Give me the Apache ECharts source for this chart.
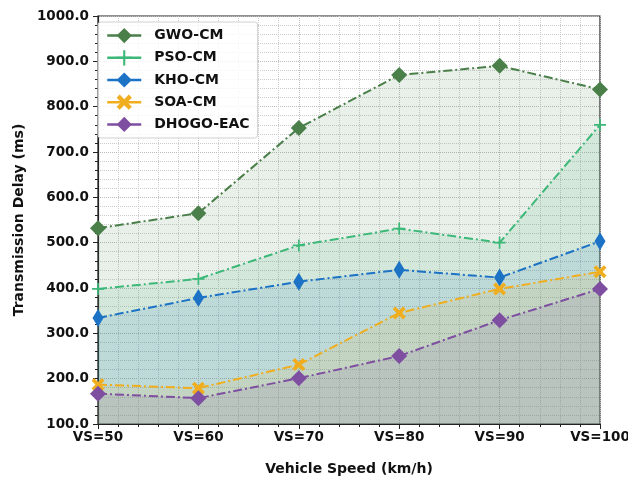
<!DOCTYPE html>
<html><head><meta charset="utf-8">
<script src="https://cdn.jsdelivr.net/npm/echarts@6/dist/echarts.min.js"></script>
<style>html,body{margin:0;padding:0;background:#fff}#c{width:628px;height:479px}</style>
</head><body><div id="c"></div>
<script>
const speeds = [50, 60, 70, 80, 90, 100];
const seriesNames = ['GWO-CM', 'PSO-CM', 'KHO-CM', 'SOA-CM', 'DHOGO-EAC'];
const gwo = [532, 565, 753, 870, 890, 838];
const pso = [398, 420, 494, 531, 500, 760];
const kho = [334, 378, 414, 440, 423, 503];
const soa = [187, 179, 231, 345, 398, 436];
const dhogo = [167, 157, 201, 250, 329, 398];
const yMin = 100, yMax = 1000, yStep = 100;

const colors = ['#4a7f4a', '#3cb878', '#1c72c4', '#f0ae1e', '#7e4fa0'];
const plusPath = 'path://M4.3,0 L5.7,0 L5.7,4.3 L10,4.3 L10,5.7 L5.7,5.7 L5.7,10 L4.3,10 L4.3,5.7 L0,5.7 L0,4.3 L4.3,4.3 Z';
const xPath = 'path://M2,0 L5,3 L8,0 L10,2 L7,5 L10,8 L8,10 L5,7 L2,10 L0,8 L3,5 L0,2 Z';
const symbols = ['diamond', plusPath, 'diamond', xPath, 'diamond'];
const symbolSizes = [[16, 16], [12, 12], [11, 18], [13, 13], [16, 16]];
const allData = [gwo, pso, kho, soa, dhogo];

const chart = echarts.init(document.getElementById('c'), null, {renderer: 'canvas'});
const font = 'DejaVu Sans';
chart.setOption({
  animation: false,
  textStyle: {fontFamily: font},
  grid: {left: 98, right: 28, top: 16, bottom: 55, outerBoundsMode: 'none', containLabel: false,
    show: true, borderColor: '#222', borderWidth: 1.2, backgroundColor: 'transparent'},
  legend: {
    orient: 'vertical', left: 98, top: 22,
    data: seriesNames,
    itemWidth: 34, itemHeight: 19, itemGap: 7,
    padding: [6, 8, 6, 8],
    lineStyle: {type: 'solid', width: 2.5},
    backgroundColor: 'rgba(255,255,255,0.8)', borderColor: '#d0d0d0', borderWidth: 1, borderRadius: 3,
    textStyle: {fontFamily: font, fontWeight: 'bold', fontSize: 14, color: '#111', padding: [0, 0, 0, 8]},
    z: 20
  },
  xAxis: {
    type: 'value', min: speeds[0], max: speeds[speeds.length - 1], interval: 10,
    name: 'Vehicle Speed (km/h)', nameLocation: 'middle', nameGap: 38,
    nameTextStyle: {fontFamily: font, fontWeight: 'bold', fontSize: 14, color: '#111'},
    axisLine: {show: true, lineStyle: {color: '#222', width: 1.2}},
    axisTick: {show: true, length: 5, lineStyle: {color: '#222'}},
    minorTick: {show: true, splitNumber: 5, length: 3, lineStyle: {color: '#222'}},
    splitLine: {show: true, lineStyle: {color: '#bbb', type: 'dotted', width: 1}},
    minorSplitLine: {show: true, lineStyle: {color: '#ccc', type: 'dotted', width: 1}},
    axisLabel: {fontFamily: font, fontWeight: 'bold', fontSize: 13.5, color: '#111', margin: 6,
      formatter: v => 'VS=' + v}
  },
  yAxis: {
    type: 'value', min: yMin, max: yMax, interval: yStep,
    name: 'Transmission Delay (ms)', nameLocation: 'middle', nameGap: 72,
    nameTextStyle: {fontFamily: font, fontWeight: 'bold', fontSize: 14, color: '#111'},
    axisLine: {show: true, lineStyle: {color: '#222', width: 1.2}},
    axisTick: {show: true, length: 5, lineStyle: {color: '#222'}},
    minorTick: {show: true, splitNumber: 5, length: 3, lineStyle: {color: '#222'}},
    splitLine: {show: true, lineStyle: {color: '#bbb', type: 'dotted', width: 1}},
    minorSplitLine: {show: true, lineStyle: {color: '#ccc', type: 'dotted', width: 1}},
    axisLabel: {fontFamily: font, fontWeight: 'bold', fontSize: 13.5, color: '#111', margin: 9,
      formatter: v => v.toFixed(1)}
  },
  series: seriesNames.map((n, i) => ({
    name: n, type: 'line',
    data: speeds.map((s, j) => [s, allData[i][j]]),
    symbol: symbols[i], symbolSize: symbolSizes[i], showSymbol: true,
    itemStyle: {color: colors[i]},
    lineStyle: {color: colors[i], width: 2, type: [9, 3, 2, 3]},
    areaStyle: {color: colors[i], opacity: 0.12, origin: 'start'},
    z: 5 + i
  }))
});
</script></body></html>
